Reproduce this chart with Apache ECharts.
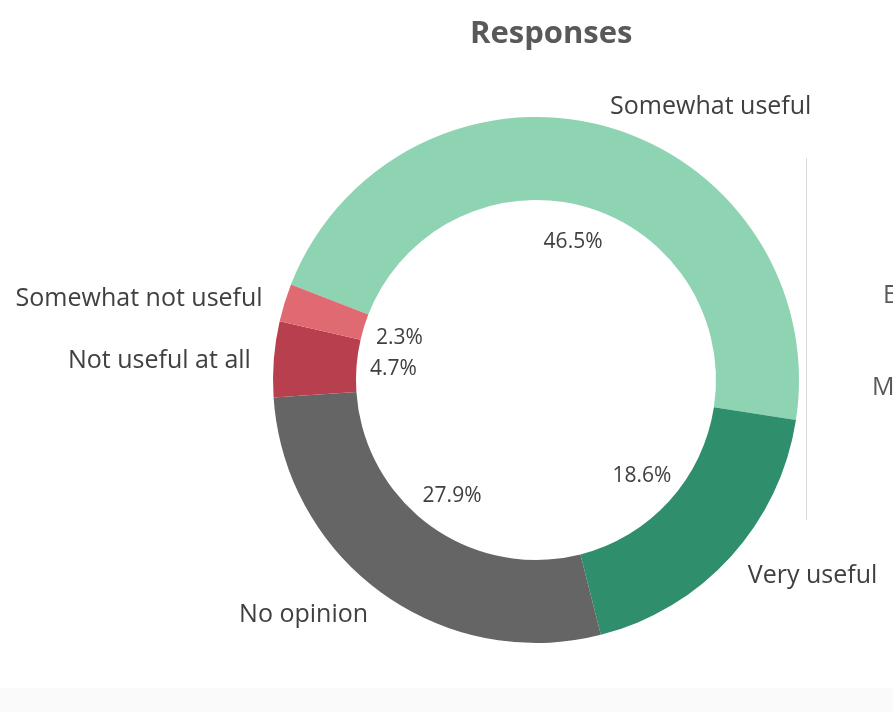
<!DOCTYPE html>
<html>
<head>
<meta charset="utf-8">
<style>
html,body{margin:0;padding:0;background:#fff;}
#chart{width:893px;height:712px;}
</style>
<script src="https://cdn.jsdelivr.net/npm/echarts@6/dist/echarts.min.js"></script>
</head>
<body>
<div id="chart"></div>
<script>
const categories = ['Somewhat useful', 'Very useful', 'No opinion', 'Not useful at all', 'Somewhat not useful'];
const counts = [20, 8, 12, 2, 1];
const colors = ['#8ed3b2', '#2f8e6b', '#666565', '#b8404e', '#e06a72'];
const titleText = 'Responses';

const FONT = '"Open Sans", "Noto Sans", sans-serif';
const data = categories.map((c, i) => ({ name: c, value: counts[i], itemStyle: { color: colors[i] } }));
const chart = echarts.init(document.getElementById('chart'), null, { renderer: 'canvas' });
const center = [536, 380];
chart.setOption({
  animation: false,
  backgroundColor: '#ffffff',
  title: {
    text: titleText,
    left: 465, top: 14,
    textStyle: { fontFamily: FONT, fontSize: 31, fontWeight: 'bold', color: '#595959' }
  },
  graphic: [
    { type: 'rect', shape: { x: 0, y: 688, width: 893, height: 24 }, style: { fill: '#fafafa' }, silent: true },
    { type: 'line', shape: { x1: 806.5, y1: 158, x2: 806.5, y2: 520 }, style: { stroke: '#d9d9d9', lineWidth: 1 }, silent: true },
    { type: 'text', x: 883, y: 296, style: { text: 'E', font: '25px ' + FONT, fill: '#595959', verticalAlign: 'middle' }, silent: true },
    { type: 'text', x: 872, y: 388, style: { text: 'M', font: '25px ' + FONT, fill: '#595959', verticalAlign: 'middle' }, silent: true }
  ],
  series: [
    {
      type: 'pie',
      center: center,
      radius: [180, 263],
      startAngle: 158.7,
      clockwise: true,
      avoidLabelOverlap: false,
      silent: true,
      data: data,
      label: {
        show: true,
        position: 'outside',
        formatter: '{n|{b}}',
        distanceToLabelLine: 0,
        rich: {
          n: {
            fontFamily: FONT,
            fontSize: 25,
            color: '#404040',
            padding: [7, 0, 0, 0]
          }
        }
      },
      labelLine: { show: false, length: 23, length2: 0 },
      itemStyle: { borderWidth: 0 }
    },
    {
      type: 'pie',
      center: center,
      radius: [100, 180],
      startAngle: 158.7,
      clockwise: true,
      avoidLabelOverlap: false,
      silent: true,
      data: categories.map((c, i) => ({ name: c, value: counts[i] })),
      itemStyle: { color: 'rgba(0,0,0,0)' },
      label: {
        show: true,
        position: 'inside',
        formatter: p => p.percent.toFixed(1) + '%',
        fontFamily: FONT,
        fontSize: 21,
        color: '#404040'
      },
      labelLine: { show: false }
    }
  ]
});
</script>
</body>
</html>
